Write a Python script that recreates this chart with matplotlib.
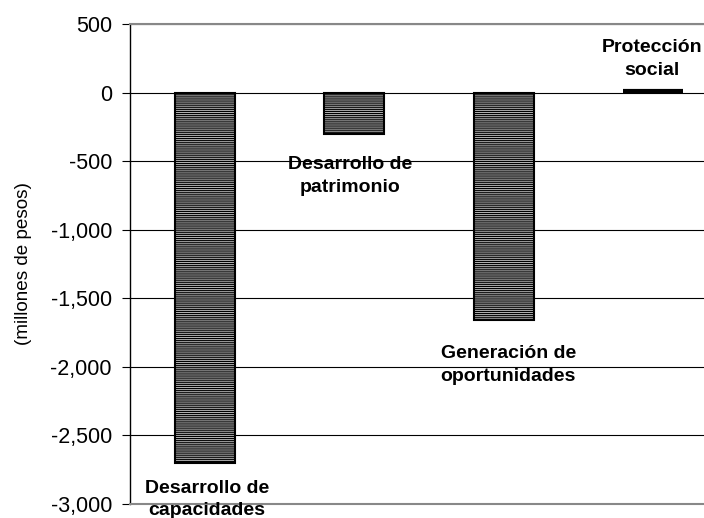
import matplotlib
matplotlib.use("Agg")
import matplotlib.pyplot as plt

categories = ["Desarrollo de\ncapacidades", "Desarrollo de\npatrimonio",
              "Generación de\noportunidades", "Protección\nsocial"]
values = [-2700, -305, -1655, 10]
yticks = [500, 0, -500, -1000, -1500, -2000, -2500, -3000]
ytick_labels = ["500", "0", "-500", "-1,000", "-1,500", "-2,000", "-2,500", "-3,000"]

plt.rcParams['font.family'] = ['Liberation Sans', 'DejaVu Sans']
plt.rcParams['hatch.linewidth'] = 0.8
plt.rcParams['hatch.color'] = '#6a6a6a'

fig = plt.figure(figsize=(7.04, 5.18), dpi=100)
ax = fig.add_axes([130/704, 1-504/518, 598/704, 480/518])

for i, v in enumerate(values):
    if abs(v) < 50:
        ax.plot([i-0.2, i+0.2], [v, v], color='black', lw=3, solid_capstyle='butt', zorder=3)
    else:
        ax.bar(i, v, width=0.4, color='#b4b4b4', edgecolor='black', linewidth=1.5,
               hatch='--------', zorder=3)

ax.set_xlim(-0.5, 3.5)
ax.set_ylim(-3000, 500)
ax.set_yticks(yticks)
ax.set_yticklabels(ytick_labels, fontsize=15.5)
ax.set_xticks([])
ax.yaxis.grid(True, color='black', linewidth=0.8)
ax.set_axisbelow(True)
ax.spines['right'].set_visible(False)
ax.spines['top'].set_color('#888888')
ax.spines['top'].set_linewidth(1.5)
ax.spines['bottom'].set_color('#888888')
ax.spines['bottom'].set_linewidth(1.5)
ax.spines['left'].set_linewidth(1.0)
ax.tick_params(axis='y', length=6, width=0.8, pad=7)
ax.set_ylabel("(millones de pesos)", fontsize=13.6)
ax.yaxis.set_label_coords(-(130-32)/598, 0.5)

label_x = [0.015, 0.97, 2.03, 2.99]
label_y = [-2967, -608, -1985, 245]
for xi, yi, lab in zip(label_x, label_y, categories):
    ax.text(xi, yi, lab, ha='center', va='center', fontsize=14, fontweight='bold',
            linespacing=1.45, zorder=4, clip_on=False)

fig.savefig("out.png", dpi=100)
